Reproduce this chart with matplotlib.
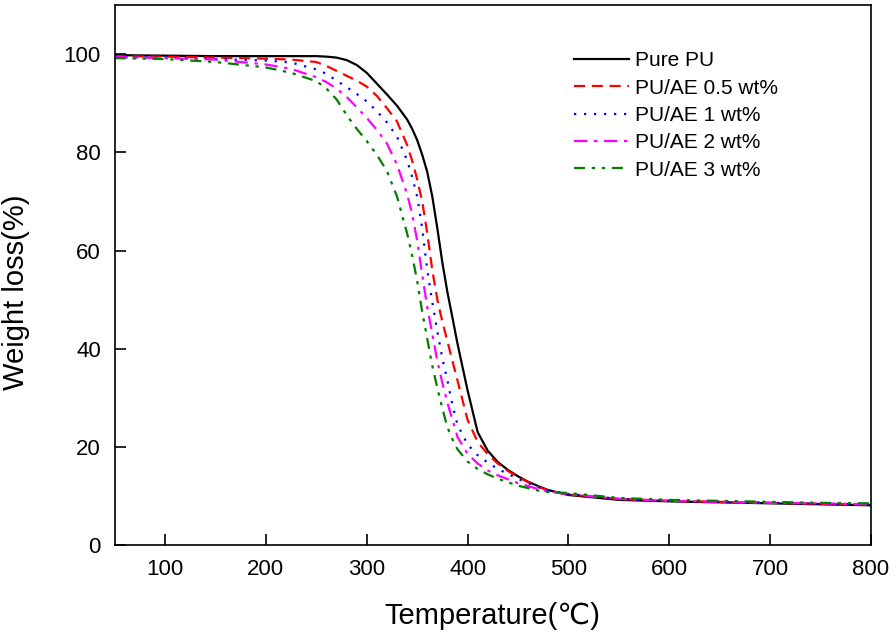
import numpy as np
import matplotlib
matplotlib.use('Agg')
import matplotlib.pyplot as plt

plt.rcParams['font.family'] = ['Liberation Sans', 'DejaVu Sans']

# температура, общая сетка для всех кривых ТГА
temp = [50, 100, 150, 200, 225, 250, 260, 270, 280, 290, 300, 310, 320, 330, 340, 345,
        350, 355, 360, 365, 370, 375, 380, 385, 390, 400, 410, 420, 430, 440, 450, 460,
        470, 480, 500, 550, 600, 650, 700, 750, 800]

# потеря массы, %
pure_pu = [99.8, 99.7, 99.6, 99.6, 99.6, 99.6, 99.5, 99.3, 98.8, 97.8, 96.2, 94.0, 91.8, 89.5, 86.7, 84.8,
           82.5, 79.5, 76.0, 71.0, 64.5, 57.5, 51.5, 46.3, 41.0, 31.5, 23.0, 19.2, 16.9, 15.3, 14.0, 12.9,
           12.0, 11.2, 10.2, 9.2, 8.9, 8.7, 8.5, 8.3, 8.1]
ae_05 = [99.6, 99.5, 99.3, 99.1, 98.9, 98.4, 97.6, 96.6, 95.6, 94.6, 93.4, 91.5, 89.0, 86.3, 81.5, 78.3,
         74.5, 70.0, 63.5, 56.0, 50.0, 45.5, 41.5, 37.5, 33.5, 25.5, 21.0, 18.5, 16.6, 15.1, 13.9, 12.8,
         11.9, 11.1, 10.3, 9.4, 9.0, 8.8, 8.6, 8.4, 8.2]
ae_1 = [99.5, 99.3, 99.0, 98.7, 98.3, 96.9, 96.0, 94.6, 93.3, 91.9, 90.4, 88.4, 86.1, 83.2, 78.4, 75.0,
        71.0, 64.5, 56.0, 49.5, 43.5, 38.0, 33.5, 28.5, 24.5, 20.5, 18.3, 16.8, 15.5, 14.5, 13.5, 12.6,
        11.8, 11.1, 10.4, 9.4, 9.0, 8.8, 8.6, 8.4, 8.3]
ae_2 = [99.4, 99.2, 98.9, 97.9, 97.0, 95.3, 94.3, 93.0, 91.3, 89.2, 87.0, 84.6, 81.8, 77.5, 71.5, 67.5,
        62.0, 55.0, 48.5, 43.0, 37.5, 33.0, 29.0, 25.5, 22.0, 18.6, 16.6, 15.2, 14.2, 13.4, 12.6, 12.0,
        11.4, 10.9, 10.4, 9.4, 9.0, 8.8, 8.6, 8.5, 8.3]
ae_3 = [99.2, 99.0, 98.4, 97.3, 96.2, 94.5, 93.0, 90.8, 87.6, 84.8, 82.3, 79.5, 76.2, 71.0, 63.5, 59.0,
        53.8, 47.5, 42.0, 36.5, 32.0, 27.8, 24.0, 21.5, 19.5, 17.0, 15.5, 14.4, 13.5, 12.8, 12.1, 11.6,
        11.1, 10.8, 10.6, 9.6, 9.2, 9.0, 8.8, 8.6, 8.5]

labels = ['Pure PU', 'PU/AE 0.5 wt%', 'PU/AE 1 wt%', 'PU/AE 2 wt%', 'PU/AE 3 wt%']
series = [pure_pu, ae_05, ae_1, ae_2, ae_3]
colors = ['black', '#ff0000', '#0000ff', '#ff00ff', '#008000']
dashes = [None, (5, 3), (1, 3.5), (6, 3, 1.5, 3), (5, 3, 1.5, 3, 1.5, 3)]

fig = plt.figure(figsize=(8.96, 6.36), dpi=100)
ax = fig.add_axes([0.128, 0.143, 0.844, 0.849])

for y, lab, c, d in zip(series, labels, colors, dashes):
    line, = ax.plot(temp, y, color=c, lw=1.6, label=lab)
    if d is not None:
        line.set_dashes(d)

ax.set_xlim(50, 800)
ax.set_ylim(0, 110)
ax.set_xticks(np.arange(100, 801, 100))
ax.set_yticks(np.arange(0, 101, 20))
ax.tick_params(direction='in', length=8, width=1.2, labelsize=16, pad=10)
for s in ax.spines.values():
    s.set_linewidth(1.2)

ax.set_xlabel('Temperature(℃)', fontsize=21, labelpad=16)
ax.set_ylabel('Weight loss(%)', fontsize=21)
ax.yaxis.set_label_coords(-0.112, 0.468)

ax.legend(loc='upper left', bbox_to_anchor=(0.597, 0.93), frameon=False, fontsize=15,
          handlelength=2.6, handletextpad=0.3, labelspacing=0.4, borderaxespad=0)

plt.savefig('out.png', dpi=100)
